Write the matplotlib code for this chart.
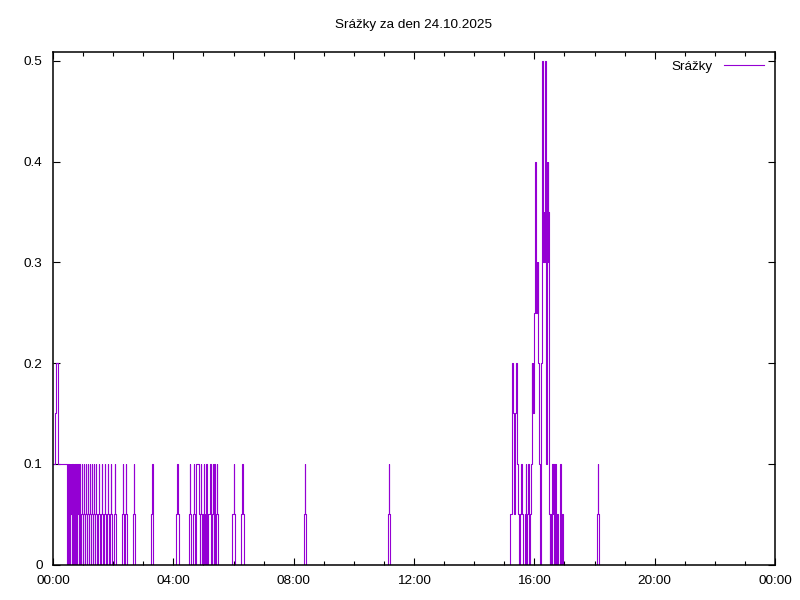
import numpy as np
import matplotlib
matplotlib.use('Agg')
import matplotlib.pyplot as plt
from matplotlib.ticker import MultipleLocator

plt.rcParams['font.family'] = ['Liberation Sans', 'DejaVu Sans']

# srazky v mm, cas v minutach od pulnoci (hodnota plati az do dalsiho bodu)
noc_t = [0, 4, 6, 9, 10, 27, 28, 29, 30, 31, 32, 33, 33.5, 34.5, 35.5, 36.5, 37, 38, 38.5,
         39.5, 40, 41, 41.5, 42.5, 43, 44, 44.5, 45.5, 46.5, 47.5, 48, 49, 49.5, 50.5, 51,
         52, 52.5, 53, 54,
         55, 57, 57.5, 59, 59.5, 61, 61.5, 63, 63.5, 65, 65.5, 67, 67.5, 69, 69.5, 71,
         71.5, 73, 73.5, 75, 75.5, 77, 77.5, 79, 79.5, 81, 81.5, 83, 84, 86, 86.5, 88,
         90, 92, 92.5, 94, 96, 98, 98.5, 100, 102, 104, 104.5, 106, 107, 109, 109.5, 111,
         113, 115, 115.5, 117, 122, 124, 124.5, 126, 138, 140, 140.5, 142, 144, 146, 146.5,
         148, 160, 162, 162.5, 164, 196, 198, 198.5, 200]
noc_v = [0.1, 0.15, 0.2, 0.15, 0.1, 0.05, 0, 0.05, 0.1, 0.05, 0, 0.05, 0.1, 0.05, 0.1, 0.05, 0, 0.05, 0.1,
         0.05, 0, 0.05, 0.1, 0.05, 0, 0.05, 0.1, 0.05, 0, 0.05, 0.1, 0.05, 0.1, 0.05, 0,
         0.05, 0.1, 0.05, 0,
         0.05, 0.1, 0.05, 0, 0.05, 0.1, 0.05, 0, 0.05, 0.1, 0.05, 0, 0.05, 0.1, 0.05, 0,
         0.05, 0.1, 0.05, 0, 0.05, 0.1, 0.05, 0, 0.05, 0.1, 0.05, 0, 0.05, 0.1, 0.05, 0,
         0.05, 0.1, 0.05, 0, 0.05, 0.1, 0.05, 0, 0.05, 0.1, 0.05, 0, 0.05, 0.1, 0.05, 0,
         0.05, 0.1, 0.05, 0, 0.05, 0.1, 0.05, 0, 0.05, 0.1, 0.05, 0, 0.05, 0.1, 0.05,
         0, 0.05, 0.1, 0.05, 0, 0.05, 0.1, 0.05, 0]

rano_t = [245.5, 248, 248.5, 250.5, 271, 273, 273.5, 275.5, 279.5, 281, 281.5, 283,
          284.5, 286, 291, 292.5, 294, 295.5, 296, 297.5, 299, 300.5, 301, 302,
          303, 304, 305, 306, 306.5, 308, 310, 312.5, 313, 314, 315, 316,
          317.5, 319, 319.5, 320.5, 321, 322, 322.5, 324, 326, 327.5, 328, 329,
          358, 360, 360.5, 362.5, 375.5, 377.5, 378, 380]
rano_v = [0.05, 0.1, 0.05, 0, 0.05, 0.1, 0.05, 0, 0.05, 0.1, 0.05, 0,
          0.05, 0.1, 0.05, 0, 0.05, 0.1, 0.05, 0, 0.05, 0.1, 0.05, 0,
          0.05, 0, 0.05, 0.1, 0.05, 0, 0.05, 0.1, 0.05, 0.1, 0.05, 0,
          0.05, 0.1, 0.05, 0, 0.05, 0.1, 0.05, 0, 0.05, 0.1, 0.05, 0,
          0.05, 0.1, 0.05, 0, 0.05, 0.1, 0.05, 0]

den_t = [500, 502, 502.5, 504, 668, 670, 670.5, 672]
den_v = [0.05, 0.1, 0.05, 0, 0.05, 0.1, 0.05, 0]

bourka_t = [911.5, 915, 918, 920, 921, 923, 925, 927, 930, 932, 934, 935, 937,
            941, 943, 944, 946, 947, 949, 950, 952, 954, 955, 956, 957, 958, 959,
            960, 962, 962.5, 963.5, 964.5, 965.5, 967, 968, 969.5, 971.5, 973,
            976, 977, 978, 979, 980, 981, 982, 983, 984, 985, 986, 987, 988, 989,
            989.5, 991, 992, 994, 995, 996, 997, 998, 999, 1000, 1001, 1002, 1003,
            1004, 1006, 1008, 1011, 1012, 1013, 1014, 1015, 1017]
bourka_v = [0.05, 0.2, 0.15, 0.05, 0.15, 0.2, 0.1, 0.05, 0, 0.05, 0.1, 0.05, 0,
            0.05, 0.1, 0, 0.05, 0.1, 0.05, 0, 0.05, 0.1, 0.2, 0.15, 0.2, 0.15, 0.2,
            0.25, 0.4, 0.3, 0.25, 0.3, 0.25, 0.3, 0.2, 0.1, 0, 0.2,
            0.5, 0.35, 0.3, 0.35, 0.3, 0.35, 0.5, 0.3, 0.1, 0.4, 0.3, 0.4, 0.35, 0.25,
            0.05, 0, 0.05, 0, 0.05, 0.1, 0.05, 0.1, 0.05, 0, 0.05, 0.1, 0.05,
            0, 0.05, 0, 0.05, 0.1, 0.05, 0, 0.05, 0]

vecer_t = [1084, 1086, 1086.5, 1088]
vecer_v = [0.05, 0.1, 0.05, 0]

tick_pos = [0, 240, 480, 720, 960, 1200, 1440]
tick_lab = ['00:00', '04:00', '08:00', '12:00', '16:00', '20:00', '00:00']
y_ticks = [0, 0.1, 0.2, 0.3, 0.4, 0.5]
y_lab = ['0', '0.1', '0.2', '0.3', '0.4', '0.5']

t = np.concatenate([noc_t, rano_t, den_t, bourka_t, vecer_t])
v = np.concatenate([noc_v, rano_v, den_v, bourka_v, vecer_v])

fig = plt.figure(figsize=(8, 6), dpi=100)
ax = fig.add_axes([53 / 800, 35.5 / 600, 722 / 800, 512.8 / 600])

ax.plot(t, v, drawstyle='steps-post', color='#9400d3', lw=0.8, label='Srážky')

ax.set_xlim(0, 1440)
ax.set_ylim(0, 0.509)
ax.set_xticks(tick_pos)
ax.set_xticklabels(tick_lab)
ax.xaxis.set_minor_locator(MultipleLocator(60))
ax.set_yticks(y_ticks)
ax.set_yticklabels(y_lab)

ax.tick_params(which='both', direction='in', top=True, right=True, labelsize=9.7, color='black')
ax.tick_params(which='major', length=5, width=0.8)
ax.tick_params(which='minor', length=2.6, width=0.8)
ax.tick_params(axis='y', pad=7.5)
ax.tick_params(axis='x', pad=7.5)
for s in ax.spines.values():
    s.set_linewidth(1.1)
    s.set_zorder(3)

ax.set_title('Srážky za den 24.10.2025', fontsize=9.7, pad=17)

ax.legend(loc='upper right', frameon=False, markerfirst=False, fontsize=9.7,
          handlelength=3.0, handletextpad=0.8, borderaxespad=0, borderpad=0.65,
          bbox_to_anchor=(1 - 2 / 722, 1))

plt.savefig('out.png', dpi=100)
